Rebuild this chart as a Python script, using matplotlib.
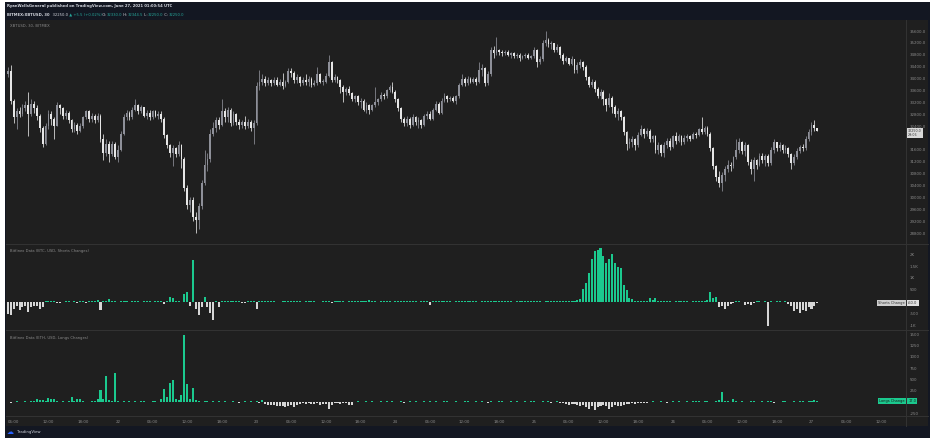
import matplotlib
matplotlib.use("Agg")
import matplotlib.pyplot as plt
import numpy as np
import pandas as pd
from matplotlib.patches import Rectangle
from matplotlib.transforms import blended_transform_factory, ScaledTranslation

# ---------------- data ----------------
start_time = "2021-06-21 05:00"
first_open = 34150
closes = [
    34250, 33250, 32700, 32900, 32800, 33000, 33100, 32800, 33150, 33000,
    32750, 32350, 31800, 32400, 32800, 32650, 32400, 33100, 33000, 32750,
    32850, 32600, 32300, 32450, 32250, 32400, 32700, 32900, 32650, 32750,
    32600, 32750, 31950, 31500, 31800, 31450, 31800, 31350, 31600, 32150,
    32700, 32850, 32700, 32950, 33100, 32900, 33050, 32750, 32850, 32700,
    32900, 32750, 32800, 32650, 32100, 31750, 31500, 31650, 31450, 31750,
    31300, 30300, 29750, 29900, 29350, 29250, 29700, 30500, 31100, 31300,
    32150, 32350, 32600, 32450, 32900, 32700, 32950, 32500, 32800, 32550,
    32450, 32550, 32400, 32550, 32350, 32500, 33750, 33900, 34000, 33850,
    33950, 33850, 33950, 33800, 33900, 33750, 33900, 34250, 34200, 33950,
    34050, 33850, 33950, 33900, 34000, 33800, 33850, 34150, 33900, 33900,
    34100, 34550, 33950, 34050, 33950, 33700, 33550, 33650, 33500, 33300,
    33400, 33200, 33250, 32950, 33100, 32950, 33100, 33200, 33300, 33450,
    33400, 33600, 33700, 33550, 33300, 33000, 32650, 32500, 32650, 32450,
    32700, 32550, 32600, 32450, 32750, 32800, 32650, 32950, 33150, 32850,
    33250, 33400, 33300, 33350, 33250, 33400, 33800, 34000, 33850, 34000,
    33900, 34000, 33900, 34300, 34350, 33850, 34150, 34950, 34850, 34950,
    34900, 34850, 34900, 34800, 34850, 34750, 34800, 34700, 34750, 34800,
    34700, 34750, 34950, 34550, 34650, 35200, 35300, 35150, 35200, 34950,
    35050, 34800, 34600, 34700, 34500, 34650, 34300, 34450, 34550, 34400,
    34050, 33800, 33900, 33650, 33400, 33550, 33300, 33100, 33350, 33050,
    32800, 32900, 32700, 32200, 31800, 31850, 31950, 31750, 32100, 32300,
    32150, 32250, 31950, 32050, 31600, 31750, 31500, 31750, 31900, 31700,
    32050, 31900, 32050, 31850, 32000, 32050, 31950, 32150, 32100, 32300,
    32200, 32350, 32150, 31650, 31050, 30700, 30500, 30750, 30950, 31100,
    31050, 31350, 31600, 31850, 31550, 31750, 31200, 30950, 31250, 31100,
    31400, 31250, 31400, 31150, 31600, 31850, 31650, 31750, 31600, 31650,
    31450, 31150, 31350, 31550, 31700, 31650, 31950, 32200, 32450, 32330,
    32250,
]
highs = [
    34400, 34450, 33300, 33000, 33050, 33150, 33250, 33550, 33300, 33250,
    33100, 32800, 32400, 32500, 32950, 32900, 32700, 33200, 33150, 33050,
    32950, 32900, 32650, 32550, 32500, 32500, 32750, 32950, 32950, 32850,
    32800, 32850, 32800, 32150, 31950, 31900, 31900, 31850, 31750, 32250,
    32800, 32950, 32900, 33050, 33300, 33150, 33100, 33050, 32950, 32950,
    32950, 32950, 32900, 32900, 32700, 32150, 31800, 31750, 31700, 31900,
    31800, 31350, 30400, 30000, 30000, 29500, 29800, 30600, 31600, 31500,
    32300, 32550, 32700, 32700, 33300, 33000, 33050, 33000, 32900, 32850,
    32650, 32600, 32750, 32650, 32600, 32600, 33900, 34300, 34150, 34100,
    34050, 34000, 34050, 34050, 34000, 34200, 33950, 34350, 34350, 34250,
    34150, 34100, 34050, 34150, 34100, 34050, 33950, 34400, 34200, 34000,
    34200, 34800, 34600, 34150, 34100, 34000, 33800, 33700, 33750, 33550,
    33450, 33450, 33350, 33300, 33200, 33150, 33150, 33700, 33350, 33550,
    33500, 33650, 33800, 33900, 33600, 33350, 33050, 32700, 32750, 32700,
    32800, 32750, 32700, 32650, 32800, 32900, 32900, 33000, 33250, 33200,
    33350, 33500, 33450, 33400, 33400, 33450, 33850, 34150, 34050, 34100,
    34050, 34050, 34050, 34550, 34500, 34400, 34250, 35050, 35100, 35400,
    35000, 34950, 34950, 34950, 34900, 34900, 34850, 34850, 34800, 34850,
    34850, 34800, 35050, 35000, 34750, 35300, 35600, 35350, 35250, 35200,
    35150, 35100, 34850, 34750, 34700, 34750, 34650, 34550, 34650, 34600,
    34450, 34100, 34000, 33950, 33700, 33650, 33600, 33350, 33500, 33400,
    33100, 33000, 32950, 32750, 32250, 32000, 32050, 32000, 32200, 32450,
    32350, 32350, 32300, 32100, 32100, 31850, 31800, 31850, 32000, 32000,
    32100, 32200, 32150, 32100, 32100, 32150, 32100, 32200, 32200, 32350,
    32700, 32400, 32400, 32200, 31700, 31100, 30900, 30850, 31050, 31250,
    31200, 31400, 31950, 32000, 31900, 31850, 31800, 31300, 31350, 31300,
    31500, 31500, 31450, 31450, 31700, 31950, 31850, 31850, 31800, 31750,
    31700, 31500, 31450, 31650, 31750, 31800, 32050, 32300, 32550, 32600,
    32345,
]
lows = [
    34050, 33150, 32500, 32300, 32700, 32750, 32900, 32050, 32750, 32850,
    32600, 32200, 31700, 31750, 32300, 32450, 31950, 32400, 32800, 32650,
    32650, 32500, 32200, 32200, 32150, 32200, 32350, 32650, 32550, 32550,
    32500, 32550, 31850, 31250, 31400, 31200, 31400, 31300, 31200, 31550,
    32100, 32600, 32600, 32650, 32900, 32800, 32850, 32700, 32650, 32600,
    32650, 32700, 32650, 32550, 32000, 31650, 31350, 31050, 31350, 31400,
    31000, 30200, 29600, 29500, 29200, 28800, 28950, 29600, 30400, 30900,
    31200, 32050, 32200, 32300, 32400, 32550, 32550, 32400, 32450, 32450,
    32300, 32350, 32300, 32350, 32250, 31800, 32450, 33600, 33800, 33750,
    33800, 33750, 33800, 33750, 33750, 33650, 33700, 33850, 34050, 33850,
    33850, 33750, 33800, 33800, 33750, 33700, 33750, 33800, 33850, 33800,
    33850, 34050, 33900, 33900, 33850, 33500, 33200, 33450, 33450, 33250,
    33200, 33100, 33000, 32900, 32850, 32800, 32900, 33050, 33100, 33250,
    33300, 33350, 33550, 33500, 33200, 32900, 32550, 32400, 32400, 32350,
    32400, 32450, 32350, 32350, 32400, 32650, 32600, 32600, 32900, 32800,
    32800, 33200, 33200, 33250, 33200, 33150, 33350, 33750, 33750, 33800,
    33850, 33850, 33800, 33850, 34100, 33750, 33800, 34100, 34700, 34800,
    34800, 34750, 34800, 34750, 34700, 34700, 34700, 34600, 34650, 34700,
    34650, 34650, 34700, 34400, 34500, 34600, 35100, 35050, 35000, 34900,
    34900, 34700, 34500, 34550, 34450, 34450, 34200, 34200, 34350, 34300,
    33950, 33700, 33700, 33550, 33350, 33300, 33100, 32900, 33050, 32850,
    32700, 32600, 32600, 32100, 31600, 31650, 31700, 31600, 31700, 32050,
    32000, 32050, 31850, 31850, 31500, 31450, 31400, 31350, 31650, 31600,
    31650, 31800, 31850, 31750, 31800, 31900, 31900, 31950, 32000, 32050,
    32150, 32150, 32050, 31550, 30950, 30550, 30350, 30200, 30550, 30850,
    30900, 31000, 31300, 31500, 31450, 31400, 31100, 30800, 30550, 30950,
    31050, 31150, 31050, 31050, 31100, 31500, 31550, 31550, 31500, 31500,
    31350, 30950, 31100, 31300, 31500, 31550, 31600, 31900, 32100, 32250,
    32250,
]
shorts = (
    [-550, -590, -310, -200, -380, -250, -180, -450, -250, -180, -170, -300, -230]
    + [30, 20, 25, 15] + [-60, -50, -40] + [20, 15, -20, 10] + [-50] + [15, 20]
    + [-60] + [10, 20, 15] + [60] + [-380] + [15, 20] + [90]
    + [10, 20, -15, 15, 20, 10, -20, 15, 25, 10, -10, 20, 15, 10, -15, 20, 10, 15]
    + [-120, 30, 200, 150, 20, 10, -40]
    + [330, 420, -170, 1740, -300, -590, -250, 210, -220, -480, -800]
    + [20, -220] + [15, 20, 10, 25, 15, 10, 20] + [-50, -50] + [10, 15, 20] + [-300]
    + [20, 15, 25, 10, 20, 15, -20, -25, 15, 10, 20, 15, 25, 10, 15, -15, 20, 10,
       15, 20, -20, -15, 10, 20, 15]
    + [-60] + [15, 10, 20, 15, -15, 10, 20, 15, 10, 20, 15, 10] + [50]
    + [15, 10, -20, 15, 20, 10, 15, -15, 10, 20, 15, 10, 20, 15, 10, 20, -10, 15, 20, 10]
    + [-150]
    + [15, 10, 20, 15, 10, 20, 15, -15, 10, 20, 15, 10, 20, 15, 10, 20, -10, 15, 20, 10,
       15, 20, 10, 25, 15, 10, 20, 15, -20, 10, 15, 20, 10, 15, 20, 10, 15, 20, -15, 10,
       20, 15, 10, 20, 15, 10, 20, 15, 30, 40]
    + [60, 120]
    + [550, 800, 1230, 1820, 2160, 2200, 2250, 1950, 1650, 1820, 2030, 1650, 1480, 1400,
       680, 470, 170, 100]
    + [30, 20, 40, 25, 20] + [150, 60, 140, 30, 20]
    + [15, 10, 20, -15, 10, 15, 20, 10, 15, -10, 20, 15, 10, 20, 30, 60]
    + [420, 150, 200, -250, -170, -300, -200, -120, -60]
    + [20, 15, -20] + [-130, -100, -130, -60] + [15, 20, -15, 10] + [-1020]
    + [15, -20, 10, 20, -15, 10]
    + [-120, -200, -420, -300, -470, -380, -420, -250, -300, -200, -60]
)
longs = (
    [10, -20, 10, 15, -10, 10, 20, 10, 15, 20]
    + [60, 40, 40, 20, 90, 60, 60, 20] + [10, 15, 10, 20] + [110] + [20, 70, 60]
    + [15, 10, 10, 15, 20] + [70, 270, 70, 570, 50, 20, 650, 15]
    + [10, 15, 10, 20, 10, 15, 10, 15, 20, 10, 10, 15, 20, 10]
    + [60, 290, 120, 420, 490, 60] + [40, 160, 1490, 400, 70, 300, 40]
    + [15, 10, 20, 30, 10, 15, 10, 20, 10, 15, -10, 10, 15, 10, -15, 10, 20, 10, 15, 10, 15]
    + [-30, 40]
    + [-50, -60, -70, -60, -80, -90, -80, -100, -90, -70, -100, -60, -40, -30]
    + [-40, -30, -50, -40, -30, -60, -50, -40, -150, -60, -30, -20, -40, -30, -20, -60, -60]
    + [10, 15, -10, 10, 20, 10, 15, -10, 10, 15, 10, 20, -10, 15, 10, 10, 15, -15, 10, 20,
       10, 15, 10, -10, 15, 10, 20, 10, 15, -10, 10, 15, 20, 10, -10, 15, 10, 10, 20, 15,
       -10, 10, 15, 10, 20, 10, -15, 15, 10, 10, 20, 15, -10, 10, 15, 10, 20, -10, 10, 15,
       10, 20, 15, -10, 10, 15, 10, 20, -15, 10, 15]
    + [-20, -30, -40, -60, -50, -40, -60, -80, -70, -100, -150, -90, -180, -120, -80,
       -60, -90, -150, -100, -70, -80, -90, -60, -50, -40, -30, -40, -20, -30]
    + [-20, -15, 10, 15, -10, 10, 20, 10, -15, 10, 15, 10, 20, -10, 10, 15, 10, 20, 30, 15,
       10, 20, 15, -10, 10, 30, 40]
    + [220] + [20, 15, 10] + [70]
    + [20, 10, 15, -10, 10, 15, 20, 10, -10, 15, 10, 20, 15, -15, 10, 10, 20, 15, 10, -10,
       15, 10, 20, 15, 10, 20, 30]
    + [50, 17]
)
price_ticks = [35600, 35200, 34800, 34400, 34000, 33600, 33200, 32800, 32400,
               31600, 31200, 30800, 30400, 30000, 29600, 29200, 28800]
short_ticks = [2000, 1500, 1000, 500, -500, -1000]
short_tick_labels = ["2K", "1.5K", "1K", "500", "-500", "-1K"]
long_ticks = [1500, 1250, 1000, 750, 500, 250, -250]
last_price = 32250.0
countdown = "29:06"

# ---------------- style ----------------
W, H = 937, 448
NAVY = "#131722"
PANEL = "#1f1f1f"
SEP = "#333333"
TXT = "#8a8a8a"
GREEN = "#1bc98e"
NEG = "#d6d6d6"
UPC = "#8e9099"
DNC = "#e6e6e6"
FS = 2.9

fig = plt.figure(figsize=(W / 100, H / 100), dpi=100, facecolor="white")


def rect(x0, y0, x1, y1):
    return [x0 / W, 1 - y1 / H, (x1 - x0) / W, (y1 - y0) / H]


bg = fig.add_axes([0, 0, 1, 1], zorder=0)
bg.set_xlim(0, W)
bg.set_ylim(H, 0)
bg.axis("off")
bg.add_patch(Rectangle((5, 2), 925, 436, fc=NAVY, ec="none"))
bg.add_patch(Rectangle((6, 20), 922, 406, fc=PANEL, ec="none"))
for yy in (244.5, 330.5, 416.5):
    bg.plot([6, 928], [yy, yy], color=SEP, lw=0.7)
bg.plot([906, 906], [20, 426], color=SEP, lw=0.7)

# header
bg.text(7, 6.5, "RyanWellsGeneral published on TradingView.com, June 27, 2021 01:00:54 UTC",
        fontsize=2.7, color="#d1d4dc", fontweight="bold", va="center", ha="left")
parts = [("BITMEX:XBTUSD, 30", "#d1d4dc", "bold"), ("  32250.0", "#d1d4dc", "normal"),
         (" \u25b2 +5.5 (+0.02%)", "#26a69a", "normal"), (" O:", "#d1d4dc", "normal"),
         ("32330.0", "#26a69a", "normal"), (" H:", "#d1d4dc", "normal"),
         ("32344.5", "#26a69a", "normal"), (" L:", "#d1d4dc", "normal"),
         ("32250.0", "#26a69a", "normal"), (" C:", "#d1d4dc", "normal"),
         ("32250.0", "#26a69a", "normal")]
prev = bg.text(7, 14.5, parts[0][0], fontsize=2.7, color=parts[0][1],
               fontweight=parts[0][2], va="center", ha="left")
for s, c, w in parts[1:]:
    prev = bg.annotate(s, xy=(1, 0), xycoords=prev, fontsize=2.7, color=c,
                       fontweight=w, va="bottom", ha="left")

# footer
bg.text(7, 432.5, "\u2601", fontsize=5, color="#2962ff", va="center", ha="left")
bg.text(17, 432.5, "TradingView", fontsize=2.8, color="#d1d4dc", va="center", ha="left")

# ---------------- panes ----------------
n = len(closes)
xl = (-0.35, 310.7)
ax_p = fig.add_axes(rect(7, 20, 906, 244), zorder=2)
ax_s = fig.add_axes(rect(7, 245, 906, 330), zorder=2, sharex=ax_p)
ax_l = fig.add_axes(rect(7, 331, 906, 416), zorder=2, sharex=ax_p)
for ax in (ax_p, ax_s, ax_l):
    ax.set_facecolor("none")
    for sp in ax.spines.values():
        sp.set_visible(False)
    ax.yaxis.tick_right()
    ax.tick_params(axis="y", length=0, pad=2.5, labelsize=FS, labelcolor=TXT)
    ax.tick_params(axis="x", length=0)
ax_p.set_xlim(*xl)

# candles
t = np.arange(n)
c = np.array(closes, float)
o = np.array([first_open] + closes[:-1], float)
h = np.maximum(np.array(highs, float), np.maximum(o, c))
lo = np.minimum(np.array(lows, float), np.minimum(o, c))
up = c >= o
cols = np.where(up, UPC, DNC)
ax_p.vlines(t, lo, h, colors=cols, lw=0.55)
ax_p.bar(t, np.maximum(np.abs(c - o), 18), bottom=np.minimum(o, c), width=0.62,
         color=cols, lw=0)
ax_p.set_ylim(28430, 35972)
ax_p.set_yticks(price_ticks)
ax_p.set_yticklabels([f"{v:.1f}" for v in price_ticks])
ax_p.tick_params(axis="x", labelbottom=False)
ax_p.text(0.0035, 0.975, "XBTUSD, 30, BITMEX", transform=ax_p.transAxes,
          fontsize=2.7, color=TXT, va="center", ha="left")

# shorts
sv = np.array(shorts, float)
ax_s.bar(np.arange(len(sv)), sv, width=0.7, color=np.where(sv >= 0, GREEN, NEG), lw=0)
ax_s.set_ylim(-1208, 2396)
ax_s.set_yticks(short_ticks)
ax_s.set_yticklabels(short_tick_labels)
ax_s.tick_params(axis="x", labelbottom=False)
ax_s.text(0.0035, 0.93, "Bitfinex Data (BTC, USD, Shorts Changes)", transform=ax_s.transAxes,
          fontsize=2.7, color=TXT, va="center", ha="left")

# longs
lv = np.array(longs, float)
ax_l.bar(np.arange(len(lv)), lv, width=0.7, color=np.where(lv >= 0, GREEN, NEG), lw=0)
ax_l.set_ylim(-309, 1569)
ax_l.set_yticks(long_ticks)
ax_l.set_yticklabels([str(v) for v in long_ticks])
ax_l.text(0.0035, 0.92, "Bitfinex Data (ETH, USD, Longs Changes)", transform=ax_l.transAxes,
          fontsize=2.7, color=TXT, va="center", ha="left")

# time axis
times = pd.date_range(start_time, periods=312, freq="30min")
tick_idx = [i for i, tt in enumerate(times) if tt.minute == 0 and tt.hour % 6 == 0 and i <= 310]
tick_lab = [str(times[i].day) if times[i].hour == 0 else times[i].strftime("%H:%M") for i in tick_idx]
ax_l.set_xticks(tick_idx)
ax_l.set_xticklabels(tick_lab)
ax_l.tick_params(axis="x", length=0, pad=2.6, labelsize=FS, labelcolor=TXT)

# badges
trp = blended_transform_factory(ax_p.transAxes, ax_p.transData) + \
    ScaledTranslation(0, -2.2 / 100, fig.dpi_scale_trans)
ax_p.text(1.0025, last_price, f"{last_price:.1f}\n{countdown}", transform=trp, ha="left",
          va="center", fontsize=2.3, color="#333333", linespacing=1.1, clip_on=False,
          bbox=dict(boxstyle="square,pad=0.25", fc="#d9d9d9", ec="none"))
trs = blended_transform_factory(ax_s.transAxes, ax_s.transData)
ax_s.text(0.9985, shorts[-1], "Shorts Change", transform=trs, ha="right", va="center",
          fontsize=2.6, color="#333333", clip_on=False,
          bbox=dict(boxstyle="square,pad=0.3", fc="#cfcfcf", ec="none"))
ax_s.text(1.0025, shorts[-1], f"{shorts[-1]:.1f}", transform=trs, ha="left", va="center",
          fontsize=2.6, color="#333333", clip_on=False,
          bbox=dict(boxstyle="square,pad=0.3", fc="#e0e0e0", ec="none"))
trl = blended_transform_factory(ax_l.transAxes, ax_l.transData)
ax_l.text(0.9985, longs[-1], "Longs Change", transform=trl, ha="right", va="center",
          fontsize=2.6, color="#1a1a1a", clip_on=False,
          bbox=dict(boxstyle="square,pad=0.3", fc=GREEN, ec="none"))
ax_l.text(1.0025, longs[-1], f"{longs[-1]:.1f}", transform=trl, ha="left", va="center",
          fontsize=2.6, color="#1a1a1a", clip_on=False,
          bbox=dict(boxstyle="square,pad=0.3", fc=GREEN, ec="none"))

fig.savefig("out.png", dpi=100, facecolor="white")
